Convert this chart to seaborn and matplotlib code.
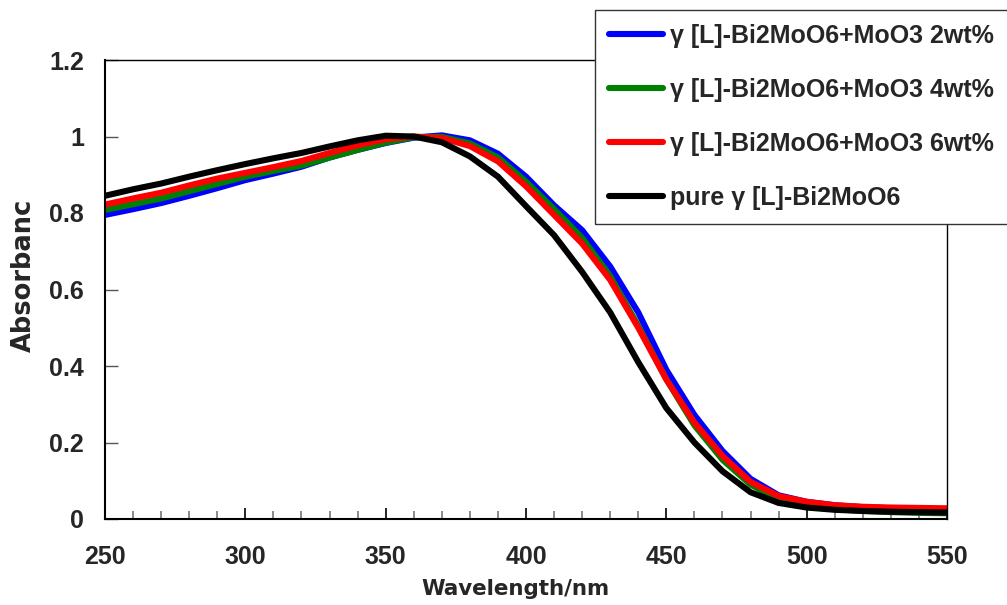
import numpy as np
import pandas as pd
import matplotlib
matplotlib.use("Agg")
import matplotlib.pyplot as plt
import seaborn as sns
from matplotlib.transforms import Bbox, TransformedBbox
from matplotlib.ticker import MultipleLocator

wavelength = [250, 260, 270, 280, 290, 300, 310, 320, 330, 340, 350, 360, 370, 380,
              390, 400, 410, 420, 430, 440, 450, 460, 470, 480, 490, 500, 510, 520,
              530, 540, 550]

abs_2wt = [0.795, 0.810, 0.826, 0.845, 0.865, 0.886, 0.903, 0.921, 0.945, 0.965, 0.983,
           0.997, 1.003, 0.990, 0.955, 0.895, 0.820, 0.755, 0.660, 0.540, 0.390, 0.272,
           0.178, 0.105, 0.062, 0.045, 0.036, 0.031, 0.028, 0.026, 0.025]
abs_4wt = [0.808, 0.823, 0.838, 0.857, 0.876, 0.895, 0.910, 0.924, 0.945, 0.965, 0.984,
           0.998, 0.999, 0.982, 0.945, 0.882, 0.810, 0.735, 0.635, 0.505, 0.365, 0.245,
           0.155, 0.090, 0.052, 0.035, 0.026, 0.021, 0.018, 0.016, 0.015]
abs_6wt = [0.822, 0.838, 0.853, 0.872, 0.890, 0.905, 0.920, 0.936, 0.957, 0.977, 0.993,
           1.000, 0.996, 0.975, 0.935, 0.870, 0.795, 0.720, 0.625, 0.500, 0.365, 0.252,
           0.165, 0.097, 0.060, 0.045, 0.036, 0.032, 0.030, 0.029, 0.028]
abs_pure = [0.845, 0.862, 0.877, 0.895, 0.912, 0.928, 0.943, 0.957, 0.974, 0.990, 1.002,
            1.000, 0.985, 0.948, 0.895, 0.818, 0.742, 0.646, 0.540, 0.410, 0.290, 0.200,
            0.125, 0.070, 0.042, 0.030, 0.024, 0.021, 0.019, 0.018, 0.017]

labels = ["γ [L]-Bi2MoO6+MoO3 2wt%", "γ [L]-Bi2MoO6+MoO3 4wt%",
          "γ [L]-Bi2MoO6+MoO3 6wt%", "pure γ [L]-Bi2MoO6"]
colors = ["#0000ff", "#008000", "#ff0000", "#000000"]

x_ticks = [250, 300, 350, 400, 450, 500, 550]
y_ticks = [0, 0.2, 0.4, 0.6, 0.8, 1.0, 1.2]
y_tick_labels = ["0", "0.2", "0.4", "0.6", "0.8", "1", "1.2"]

frames = []
for lab, vals in zip(labels, [abs_2wt, abs_4wt, abs_6wt, abs_pure]):
    frames.append(pd.DataFrame({"Wavelength": wavelength, "Absorbance": vals, "Sample": lab}))
df = pd.concat(frames, ignore_index=True)

sns.set_theme(style="ticks")
plt.rcParams["font.family"] = ["Liberation Sans", "DejaVu Sans"]
plt.rcParams["font.weight"] = "bold"

W, H = 1007, 605
fig = plt.figure(figsize=(W / 100, H / 100), dpi=100)
fig.patch.set_facecolor("white")
ax = fig.add_axes([105 / W, 1 - 519 / H, (947 - 105) / W, (519 - 60) / H])

sns.lineplot(data=df, x="Wavelength", y="Absorbance", hue="Sample", hue_order=labels,
             palette=colors, linewidth=4.4, ax=ax, legend=False)

ax.set_xlim(250, 550)
ax.set_ylim(0, 1.2)
ax.set_xticks(x_ticks)
ax.set_xticklabels([str(t) for t in x_ticks], fontsize=18, fontweight="bold")
ax.set_yticks(y_ticks)
ax.set_yticklabels(y_tick_labels, fontsize=18, fontweight="bold")
ax.xaxis.set_minor_locator(MultipleLocator(10))
ax.tick_params(axis="x", which="major", direction="in", length=8, width=1.2,
               color="black", pad=19)
ax.tick_params(axis="x", which="minor", direction="in", length=6, width=1.2,
               color="#777777")
ax.tick_params(axis="y", which="major", direction="in", length=9, width=1.0,
               color="#555555", pad=15)
ax.tick_params(top=False, right=False)
for side in ["left", "bottom"]:
    ax.spines[side].set_color("black")
    ax.spines[side].set_linewidth(1.5)
for side in ["top", "right"]:
    ax.spines[side].set_color("black")
    ax.spines[side].set_linewidth(1.0)

ax.set_xlabel("")
ax.set_ylabel("")
fig.text(515 / W, 1 - 589 / H, "Wavelength/nm", ha="center", va="center",
         fontsize=15.4, fontweight="bold", family=["DejaVu Sans"])

ylab = fig.text(24 / W, 1 - 352 / H, "Absorbance", rotation=90, ha="center",
                va="bottom", fontsize=18.5, fontweight="bold", family=["DejaVu Sans"])
ylab.set_clip_box(TransformedBbox(Bbox([[0, 0], [1, 1 - 200 / H]]), fig.transFigure))
ylab.set_clip_on(True)

handles = [plt.Line2D([], [], color=c, linewidth=4.4) for c in colors]
leg = fig.legend(handles, labels, loc="upper left",
                 bbox_to_anchor=(595 / W, 1 - 10 / H), borderaxespad=0,
                 prop={"family": ["Liberation Sans", "DejaVu Sans"], "size": 18,
                       "weight": "bold"},
                 frameon=True, fancybox=False,
                 handlelength=2.15, handletextpad=0.32, labelspacing=1.2,
                 borderpad=0.55)
leg.get_frame().set_edgecolor("#333333")
leg.get_frame().set_linewidth(1.0)
leg.get_frame().set_alpha(1)

fig.savefig("out.png", dpi=100, facecolor="white")
